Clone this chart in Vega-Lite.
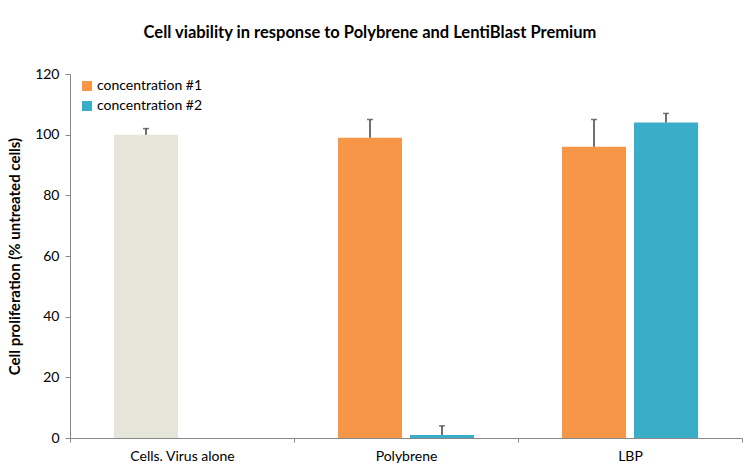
{
  "$schema": "https://vega.github.io/schema/vega-lite/v6.json",
  "width": 672,
  "height": 364,
  "autosize": "none",
  "padding": {"left": 70, "top": 74, "right": 13, "bottom": 36},
  "background": "white",
  "config": {
    "font": "Lato",
    "view": {"stroke": null},
    "axis": {"domainColor": "#888888", "tickColor": "#888888", "labelColor": "#000000", "titleColor": "#000000", "labelFont": "Lato", "titleFont": "Lato"}
  },
  "title": {
    "text": "Cell viability in response to Polybrene and LentiBlast Premium",
    "fontSize": 16.5,
    "fontWeight": "bold",
    "font": "Lato",
    "color": "#000000",
    "anchor": "middle",
    "dx": -36,
    "offset": 26
  },
  "data": {
    "values": [
      {"category": "Cells. Virus alone", "series": "concentration #1", "value": 100, "upper": 102},
      {"category": "Polybrene", "series": "concentration #1", "value": 99, "upper": 105},
      {"category": "Polybrene", "series": "concentration #2", "value": 1, "upper": 4},
      {"category": "LBP", "series": "concentration #1", "value": 96, "upper": 105},
      {"category": "LBP", "series": "concentration #2", "value": 104, "upper": 107}
    ]
  },
  "encoding": {
    "x": {
      "field": "category",
      "type": "nominal",
      "sort": ["Cells. Virus alone", "Polybrene", "LBP"],
      "scale": {"paddingInner": 0, "paddingOuter": 0},
      "axis": {"title": null, "labelAngle": 0, "labelFontSize": 14, "labelPadding": 7, "tickBand": "extent", "tickSize": 4, "domainWidth": 1}
    },
    "xOffset": {
      "field": "series",
      "type": "nominal",
      "scale": {"paddingInner": 0.111, "paddingOuter": 0.611}
    }
  },
  "layer": [
    {
      "mark": {"type": "bar"},
      "encoding": {
        "y": {
          "field": "value",
          "type": "quantitative",
          "scale": {"domain": [0, 120]},
          "axis": {
            "title": "Cell proliferation (% untreated cells)",
            "titleFontSize": 15,
            "titleFontWeight": "bold",
            "titlePadding": 12,
            "values": [0, 20, 40, 60, 80, 100, 120],
            "labelFontSize": 14,
            "labelPadding": 6,
            "tickSize": 5,
            "grid": false
          }
        },
        "color": {
          "condition": {"test": "datum.category === 'Cells. Virus alone'", "value": "#E6E5DA"},
          "field": "series",
          "type": "nominal",
          "scale": {"domain": ["concentration #1", "concentration #2"], "range": ["#F79646", "#3AADC8"]},
          "legend": {
            "title": null,
            "orient": "none",
            "legendX": 10,
            "legendY": 5,
            "symbolType": "square",
            "symbolSize": 100,
            "symbolStrokeWidth": 0,
            "labelFontSize": 14,
            "labelColor": "#000000",
            "rowPadding": 6,
            "labelOffset": 3
          }
        }
      }
    },
    {
      "mark": {"type": "rule", "color": "#404040", "strokeWidth": 1.5},
      "encoding": {
        "y": {"field": "value", "type": "quantitative"},
        "y2": {"field": "upper"}
      }
    },
    {
      "mark": {"type": "tick", "color": "#404040", "thickness": 1.5, "size": 6},
      "encoding": {
        "y": {"field": "upper", "type": "quantitative"}
      }
    }
  ]
}
